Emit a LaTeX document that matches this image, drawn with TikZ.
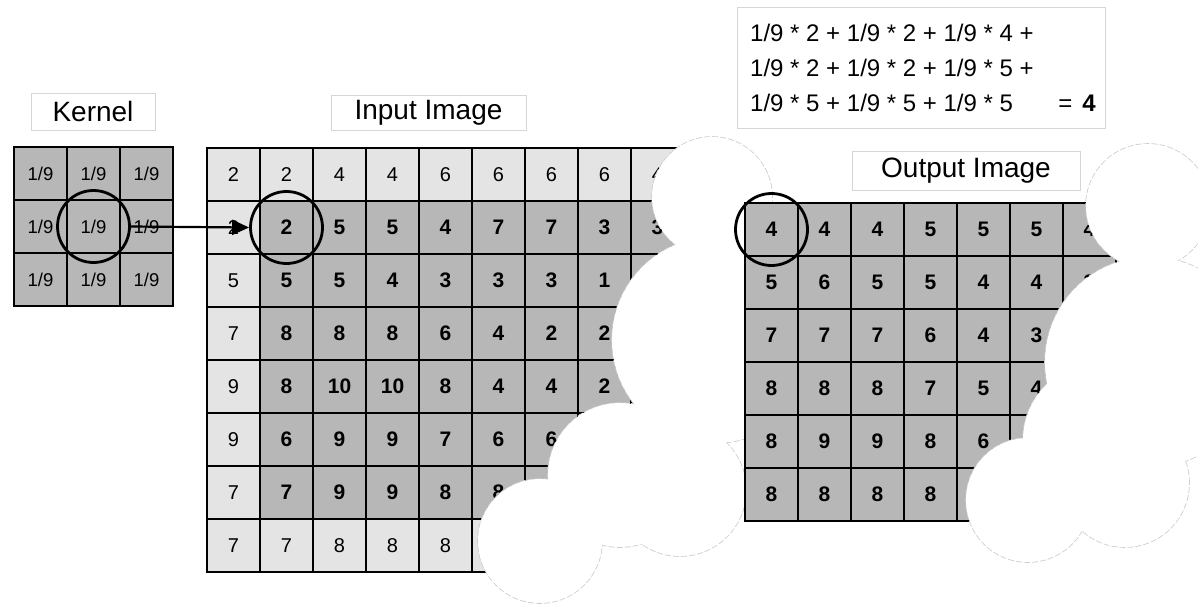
\documentclass[tikz,border=0pt]{standalone}
\usepackage{fontspec}
\setmainfont{Liberation Sans}
\usetikzlibrary{arrows.meta}
\definecolor{celldark}{HTML}{B7B7B7}
\definecolor{celllight}{HTML}{E4E4E4}
\definecolor{boxline}{HTML}{D6D6D6}
\definecolor{cloudline}{HTML}{CCCCCC}
\tikzset{
 gridcell/.style={draw=black, line width=1.2pt, minimum width=53pt, minimum height=53pt, inner sep=0pt, outer sep=0pt, anchor=north west},
 dcell/.style={gridcell, fill=celldark, font=\fontsize{21}{21}\selectfont\bfseries},
 lcell/.style={gridcell, fill=celllight, font=\fontsize{20}{20}\selectfont},
 kcell/.style={gridcell, fill=celldark, font=\fontsize{18.5}{18.5}\selectfont},
 ring/.style={circle, draw=black, line width=2.8pt, minimum size=72pt, inner sep=0pt},
 titlebox/.style={draw=boxline, line width=1pt, fill=white, inner sep=0pt, font=\fontsize{28}{28}\selectfont},
 formula/.style={anchor=base west, inner sep=0pt, font=\fontsize{24}{24}\selectfont},
 cloudedge/.style={draw=cloudline, line width=1.6pt, dash pattern=on 6pt off 2pt},
 cloudfill/.style={fill=white},
 link/.style={line width=2.2pt, -{Triangle[length=17pt,width=15pt]}},
}
\def\emptymark{-}
\begin{document}
\begin{tikzpicture}[x=1pt,y=-1pt]
\useasboundingbox (0,0) rectangle (1198,605);

% formula box
\node[draw=boxline, line width=1pt, minimum width=368pt, minimum height=121pt, inner sep=0pt] (fbox) at (921,67.5) {};
\node[formula] (f1) at (750,41) {1/9 * 2 + 1/9 * 2 + 1/9 * 4 +};
\node[formula] (f2) at (750,76) {1/9 * 2 + 1/9 * 2 + 1/9 * 5 +};
\node[formula] (f3) at (750,111) {1/9 * 5 + 1/9 * 5 + 1/9 * 5};
\node[formula, anchor=base east] (f3r) at (1096,111) {=\hspace{10pt}\textbf{4}};

% titles
\node[titlebox, minimum width=124pt, minimum height=37pt] (kt) at (93,111.5) {Kernel};
\node[titlebox, minimum width=195pt, minimum height=35pt] (it) at (428.5,112.5) {Input Image};
\node[titlebox, minimum width=228pt, minimum height=39pt] (ot) at (966,170.5) {Output Image};

% kernel
\foreach \r in {1,2,3}{
  \foreach \c in {1,2,3}{
    \node[kcell] (k-\r-\c) at ({14+53*(\c-1)},{147+53*(\r-1)}) {1/9};
  }
}

% input image
\foreach \vals [count=\r] in {{2,2,4,4,6,6,6,6,4},{2,2,5,5,4,7,7,3,3},{5,5,5,4,3,3,3,1,1},{7,8,8,8,6,4,2,2,-},{9,8,10,10,8,4,4,2,-},{9,6,9,9,7,6,6,-,-},{7,7,9,9,8,8,-,-,-},{7,7,8,8,8,-}}{
  \foreach \v [count=\c] in \vals {
    \pgfmathtruncatemacro\isl{(\r==1)||(\r==8)||(\c==1)}
    \ifnum\isl=1 \def\sty{lcell}\else\def\sty{dcell}\fi
    \edef\tmp{\v}
    \node[\sty] (in-\r-\c) at ({207+53*(\c-1)},{148+53*(\r-1)}) {\ifx\tmp\emptymark\else\v\fi};
  }
}

% input cloud
\foreach \cx/\cy/\rr in {712/197/60, 715/340/103, 620/475/72, 540/541/62, 680/490/66}
  \draw[cloudedge] (\cx,\cy) circle[radius=\rr pt];
\foreach \cx/\cy/\rr in {712/197/60, 715/340/103, 620/475/72, 540/541/62, 680/490/66}
  \fill[cloudfill] (\cx,\cy) circle[radius=\rr pt];

% output image
\foreach \vals [count=\r] in {{4,4,4,5,5,5,4},{5,6,5,5,4,4,3},{7,7,7,6,4,3,-},{8,8,8,7,5,4,-},{8,9,9,8,6,-,-},{8,8,8,8,-,-,-}}{
  \foreach \v [count=\c] in \vals {
    \edef\tmp{\v}
    \node[dcell] (out-\r-\c) at ({745+53*(\c-1)},{203+53*(\r-1)}) {\ifx\tmp\emptymark\else\v\fi};
  }
}

% output cloud
\foreach \cx/\cy/\rr in {1148/206/62, 1150/362/105, 1100/440/77, 1028/500/62, 1125/483/64}
  \draw[cloudedge] (\cx,\cy) circle[radius=\rr pt];
\foreach \cx/\cy/\rr in {1148/206/62, 1150/362/105, 1100/440/77, 1028/500/62, 1125/483/64}
  \fill[cloudfill] (\cx,\cy) circle[radius=\rr pt];

% rings and arrow
\node[ring] (kc) at (k-2-2.center) {};
\node[ring] (ic) at (in-2-2.center) {};
\node[ring] (oc) at (out-1-1.center) {};
\draw[link] (kc.east) -- (ic.west);
\end{tikzpicture}
\end{document}
